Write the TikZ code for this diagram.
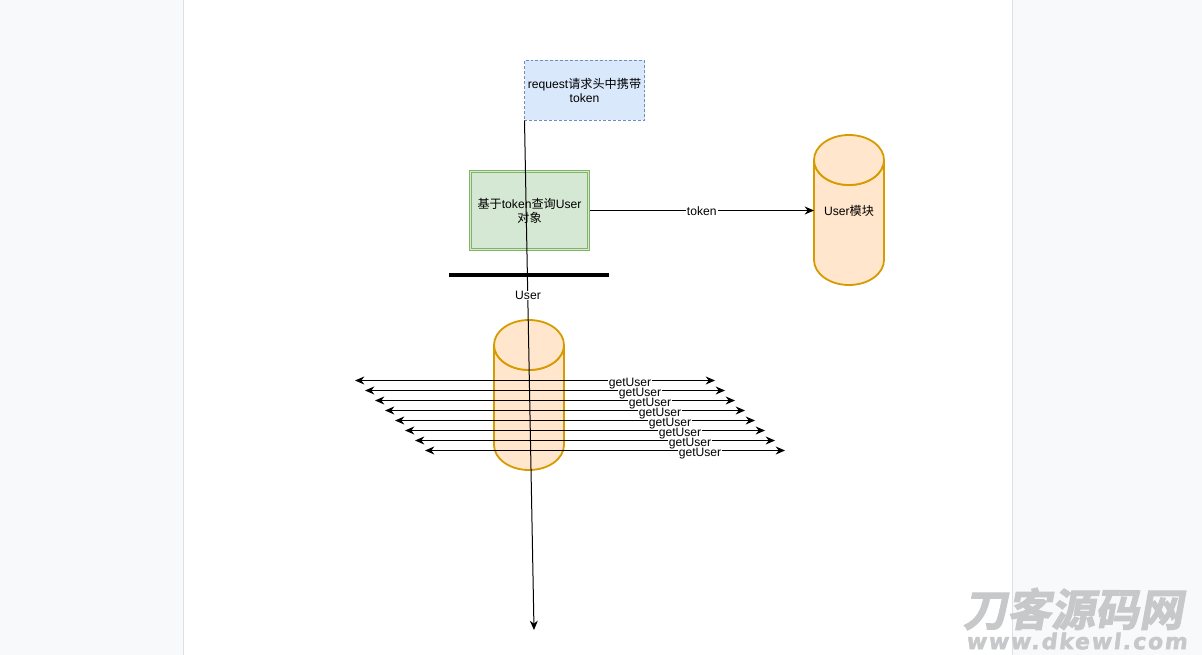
\documentclass[tikz,border=0pt]{standalone}
\usepackage{fontspec}
\usetikzlibrary{arrows.meta}
\setmainfont{Liberation Sans}
\newfontfamily\cjk{Noto Sans CJK SC}
\newfontfamily\markcjk[FakeSlant=0.18,FakeBold=2.5]{Noto Sans CJK SC Bold}
\newfontfamily\marklat[FakeSlant=0.12,FakeBold=2,LetterSpace=8]{DejaVu Sans Bold}
\definecolor{pageback}{HTML}{F8F9FA}
\definecolor{pageedge}{HTML}{DEE0E2}
\definecolor{bluefill}{HTML}{DAE8FC}
\definecolor{blueline}{HTML}{6C8EBF}
\definecolor{greenfill}{HTML}{D5E8D4}
\definecolor{greenline}{HTML}{82B366}
\definecolor{drumfill}{HTML}{FFE6CC}
\definecolor{drumline}{HTML}{D79B00}
\definecolor{stamp}{HTML}{C6C8CA}
\tikzset{
  x=0.75pt,y=-0.75pt,
  every node/.style={font=\fontsize{9.1pt}{10.5pt}\selectfont,inner sep=0pt,outer sep=0pt},
  reqbox/.style={draw=blueline,fill=bluefill,dashed,dash pattern=on 2.2pt off 1.5pt,line width=0.6pt,
    minimum width=90pt,minimum height=45pt,align=center},
  querybox/.style={draw=greenline,fill=greenfill,line width=0.75pt,
    minimum width=90pt,minimum height=60pt,align=center},
  queryinner/.style={draw=greenline,line width=0.6pt,minimum width=87pt,minimum height=57pt},
  drumbody/.style={minimum width=52.5pt,minimum height=112.5pt},
  drumline/.style={draw=drumline,fill=drumfill,line width=1.35pt},
  link/.style={-{Stealth[length=7pt,width=6pt]},line width=0.75pt,black},
  twoway/.style={{Stealth[length=7pt,width=6pt]}-{Stealth[length=7pt,width=6pt]},line width=0.75pt,black},
  tag/.style={fill=white,inner xsep=0.8pt,inner ysep=0pt},
  bar/.style={fill=black,minimum width=120pt,minimum height=3pt},
}
% Drum: a named body node, with its outline and top ellipse drawn from the node's anchors
\newcommand{\drum}[3]{%
  \node[drumbody] (#1) at (#2) {};
  \path[drumline] ([yshift=-18.75pt]#1.north west)
    -- ([yshift=18.75pt]#1.south west)
    arc[start angle=180,end angle=360,x radius=26.25pt,y radius=18.75pt]
    -- ([yshift=-18.75pt]#1.north east)
    arc[start angle=0,end angle=-180,x radius=26.25pt,y radius=18.75pt]
    -- cycle;
  \path[drumline] ([yshift=-18.75pt]#1.north west)
    arc[start angle=180,end angle=540,x radius=26.25pt,y radius=18.75pt];
  \node at ([yshift=-0.4pt]#1) {#3};
}
\begin{document}
\begin{tikzpicture}
\useasboundingbox (0,0) rectangle (1202,655);
% Page sheet on its grey surround
\fill[pageback] (0,0) rectangle (1202,655);
\fill[white] (184,0) rectangle (1012,655);
\draw[pageedge,line width=1.3pt] (183.5,0) -- (183.5,655);
\draw[pageedge,line width=1.3pt] (1012.5,0) -- (1012.5,655);

% Lower drum sits beneath every connector
\drum{lower}{529,395}{}

% Boxes
\node[reqbox] (req) at (584.5,90.5) {request{\cjk 请求头中携带}\\token};
\node[querybox] (query) at (529.5,210.5) {};
\node[queryinner] (queryrim) at (query) {};
\node[align=center] (querytext) at (query) {{\cjk 基于}token{\cjk 查询}User\\{\cjk 对象}};
\drum{usermod}{849,210}{User{\cjk 模块}}
\node[bar] (bar) at (529,275) {};

% Long request arrow from the corner of the request box
\coordinate (reqend) at (534,630);
\draw[link] (req.south west) -- (reqend);
\node[tag] (userlabel) at (528,295.5) {User};

% Query to user module
\draw[link] (query.east) -- node[tag,pos=0.5,yshift=-0.6pt] (tokenlabel) {token} (usermod.west |- query.east);

% Stack of getUser calls, each stepped ten pixels right and down
\foreach \i in {0,...,7}{
  \coordinate (a\i) at ({355+10*\i},{380.5+10*\i});
  \coordinate (b\i) at ({715+10*\i},{380.5+10*\i});
  \draw[twoway] (a\i) -- (b\i);
  \node[tag] (call\i) at ({630+10*\i},{384+10*\i}) {getUser};
}

% Site stamp in the corner
\node[anchor=west,text=stamp,font=\fontsize{33pt}{33pt}\selectfont] (stampa) at (963,609) {\markcjk 刀客源码网};
\node[anchor=west,text=stamp,font=\fontsize{16.5pt}{17pt}\selectfont] (stampb) at (966,641) {\marklat www.dkewl.com};
\end{tikzpicture}
\end{document}
